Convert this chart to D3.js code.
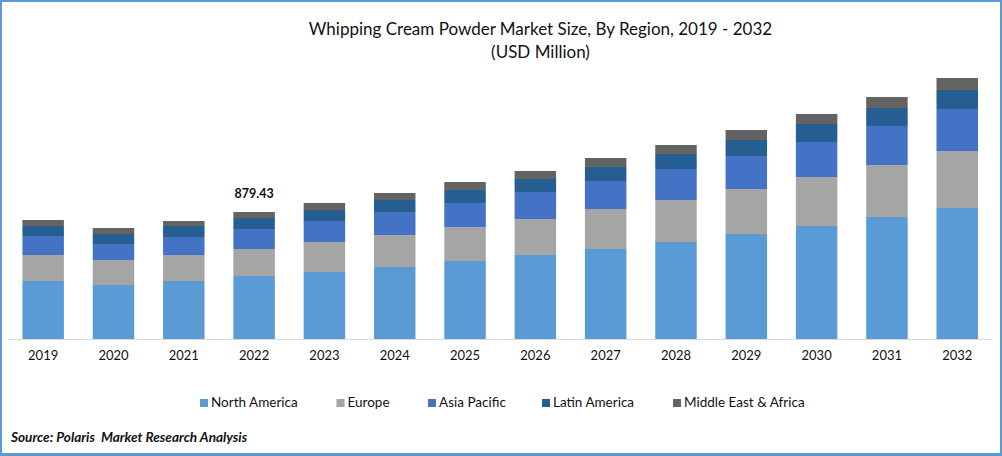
<!DOCTYPE html>
<html>
<head>
<meta charset="utf-8">
<script src="https://cdn.jsdelivr.net/npm/d3@7/dist/d3.min.js"></script>
<style>
  html, body { margin: 0; padding: 0; background: #fff; }
  svg { display: block; }
  text { font-family: Lato, "Open Sans", sans-serif; fill: #111; white-space: pre; }
</style>
</head>
<body>
<div id="chart"></div>
<script>
const years = ["2019","2020","2021","2022","2023","2024","2025","2026","2027","2028","2029","2030","2031","2032"];
const regions = ["North America","Europe","Asia Pacific","Latin America","Middle East & Africa"];
const colors = ["#5b9bd5","#a5a5a5","#4472c4","#255e91","#636363"];

// values, USD million
const northAmerica = [401.6,374,401.6,436.2,464,498.6,540.2,581.7,623.3,671.7,727.1,782.5,844.9,907.2];
const europe = [180,173.1,180,187,207.8,221.6,235.5,249.3,277,290.9,311.6,339.3,360.1,394.7];
const asiaPacific = [131.6,110.8,124.7,138.5,145.4,159.3,166.2,187,193.9,214.7,228.5,242.4,270.1,290.9];
const latinAmerica = [69.3,69.3,76.2,76.2,76.2,83.1,90,90,97,103.9,110.8,124.7,124.7,131.6];
const middleEast = [41.5,41.5,34.6,41.53,48.5,48.5,55.4,55.4,62.3,62.3,69.3,69.3,76.2,83.1];

const labelYear = "2022";
const labelText = "879.43";

const width = 1002;
const height = 456;
const baseline = 339;

const svg = d3.select("#chart")
    .append("svg")
    .attr("width", width)
    .attr("height", height);

const series = [northAmerica, europe, asiaPacific, latinAmerica, middleEast];
const rows = years.map((year, i) => {
    const row = { year };
    regions.forEach((r, j) => { row[r] = series[j][i]; });
    return row;
});
const stacked = d3.stack().keys(regions)(rows);

const x = d3.scaleBand()
    .domain(years)
    .range([8, 992.4])
    .paddingInner(0.41)
    .paddingOuter(0.205);

const y = d3.scaleLinear()
    .domain([0, 1850])
    .range([baseline, baseline - 1850 * 127 / 879.43]);

svg.append("g")
    .selectAll("g")
    .data(stacked)
    .join("g")
    .attr("fill", (d, i) => colors[i])
    .selectAll("rect")
    .data(d => d)
    .join("rect")
    .attr("x", d => x(d.data.year))
    .attr("y", d => y(d[1]))
    .attr("width", x.bandwidth())
    .attr("height", d => y(d[0]) - y(d[1]));

// x axis
const axis = svg.append("g")
    .attr("transform", `translate(0,${baseline})`)
    .call(d3.axisBottom(x).tickSize(0).tickPadding(12));
axis.select(".domain").attr("stroke", "#d9d9d9").attr("stroke-width", 1);
axis.selectAll("text")
    .attr("font-size", "13px")
    .style("font-family", "Lato, sans-serif");

// value label on 2022
const labelRow = rows.find(r => r.year === labelYear);
svg.append("text")
    .attr("x", x(labelYear) + x.bandwidth() / 2)
    .attr("y", y(d3.sum(regions, r => labelRow[r])) - 14)
    .attr("text-anchor", "middle")
    .attr("font-size", "12.5px")
    .attr("font-weight", 700)
    .text(labelText);

// title
svg.append("text")
    .attr("x", 540.5)
    .attr("y", 35)
    .attr("text-anchor", "middle")
    .attr("font-size", "17px")
    .text("Whipping Cream Powder Market Size, By Region, 2019 - 2032");
svg.append("text")
    .attr("x", 540.5)
    .attr("y", 58)
    .attr("text-anchor", "middle")
    .attr("font-size", "17px")
    .text("(USD Million)");

// legend
const legendX = [200, 336.5, 428, 542, 673];
const legend = svg.append("g")
    .selectAll("g")
    .data(regions)
    .join("g")
    .attr("transform", (d, i) => `translate(${legendX[i]},399)`);
legend.append("rect")
    .attr("width", 8)
    .attr("height", 8)
    .attr("fill", (d, i) => colors[i]);
legend.append("text")
    .attr("x", 11)
    .attr("y", 8)
    .attr("font-size", "13.5px")
    .text(d => d);

svg.append("text")
    .attr("x", 11)
    .attr("y", 442)
    .attr("font-size", "13.6px")
    .attr("font-weight", 700)
    .attr("font-style", "italic")
    .text("Source: Polaris  Market Research Analysis");

// frame, the bottom edge is a bit thicker
svg.append("rect")
    .attr("x", 1)
    .attr("y", 1)
    .attr("width", width - 2)
    .attr("height", height - 3)
    .attr("fill", "none")
    .attr("stroke", "#5b9bd5")
    .attr("stroke-width", 2);
svg.append("rect")
    .attr("x", 0)
    .attr("y", height - 3)
    .attr("width", width)
    .attr("height", 3)
    .attr("fill", "#5b9bd5");
</script>
</body>
</html>
